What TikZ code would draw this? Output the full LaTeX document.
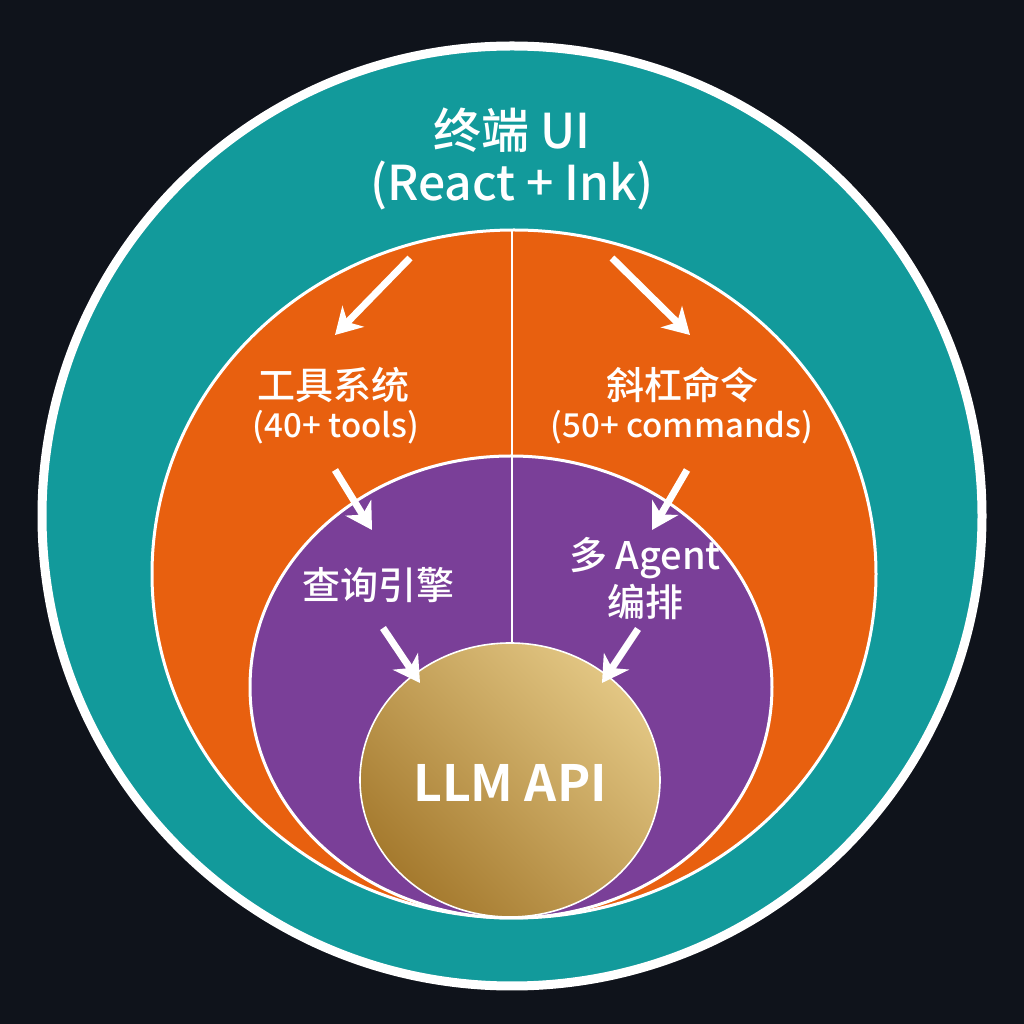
\documentclass[tikz,border=0pt]{standalone}
\usepackage{fontspec}
\setmainfont{Noto Sans CJK SC}[BoldFont={* Medium}]
\newfontfamily\heavyfont{Noto Sans CJK SC}[BoldFont={* Bold}]
\usetikzlibrary{arrows.meta}
\definecolor{bgdark}{HTML}{0F131B}
\definecolor{tealring}{HTML}{129A9B}
\definecolor{orangering}{HTML}{E8600F}
\definecolor{purplering}{HTML}{7A3F98}
\definecolor{golddark}{HTML}{A57A2E}
\definecolor{goldlight}{HTML}{E2C683}

\begin{document}
\begin{tikzpicture}[x=0.5pt,y=0.5pt,
	ringtext/.style={text=white, font=\bfseries\fontsize{19}{22}\selectfont, inner sep=0pt},
	subtext/.style={text=white, font=\bfseries\fontsize{16.5}{20}\selectfont, inner sep=0pt},
	bigtext/.style={text=white, font=\bfseries\fontsize{24}{28}\selectfont, inner sep=0pt},
	flowarrow/.style={white, line width=3.5pt, -{Stealth[length=13pt,width=15pt,inset=4pt]}}]
	
	\fill[bgdark] (0,0) rectangle (1024,1024);
	\useasboundingbox (0,0) rectangle (1024,1024);
	
	% rings
	\filldraw[fill=tealring, draw=white, line width=4.5pt] (512,508) circle (470);
	\filldraw[fill=orangering, draw=white, line width=1.5pt] (514,450) ellipse (362 and 344);
	\filldraw[fill=purplering, draw=white, line width=1.5pt] (511,337) ellipse (261 and 231);
	\draw[white, line width=1.2pt] (512,794) -- (512,381);
	\shade[top color=goldlight, bottom color=golddark, shading angle=-45] (510,244) ellipse (150 and 137);
	\draw[white, line width=0.8pt] (510,244) ellipse (150 and 137);
	
	% labels
	\node[bigtext] (ui) at (512,894) {终端 UI};
	\node[bigtext] (uisub) at (512,839) {(React + Ink)};
	\node[ringtext] (tools) at (333,639) {工具系统};
	\node[subtext] (toolsub) at (336,597) {(40+ tools)};
	\node[ringtext] (cmds) at (682,639) {斜杠命令};
	\node[subtext] (cmdsub) at (682,597) {(50+ commands)};
	\node[ringtext] (query) at (378,439) {查询引擎};
	\node[ringtext] (agent) at (645,466) {多 Agent};
	\node[ringtext] (agentsub) at (645,422) {编排};
	\node[text=white, font=\heavyfont\bfseries\fontsize{25}{30}\selectfont, inner sep=0pt] (llm) at (510,241) {LLM API};
	
	% arrows
	\coordinate (t1) at (410,766); \coordinate (h1) at (335,689);
	\coordinate (t2) at (612,766); \coordinate (h2) at (690,689);
	\coordinate (t3) at (335,554); \coordinate (h3) at (372,494);
	\coordinate (t4) at (687,554); \coordinate (h4) at (652,494);
	\coordinate (t5) at (383,396); \coordinate (h5) at (420,341);
	\coordinate (t6) at (638,395); \coordinate (h6) at (602,341);
	\foreach \i in {1,...,6}
		\draw[flowarrow] (t\i) -- (h\i);
	
\end{tikzpicture}
\end{document}
